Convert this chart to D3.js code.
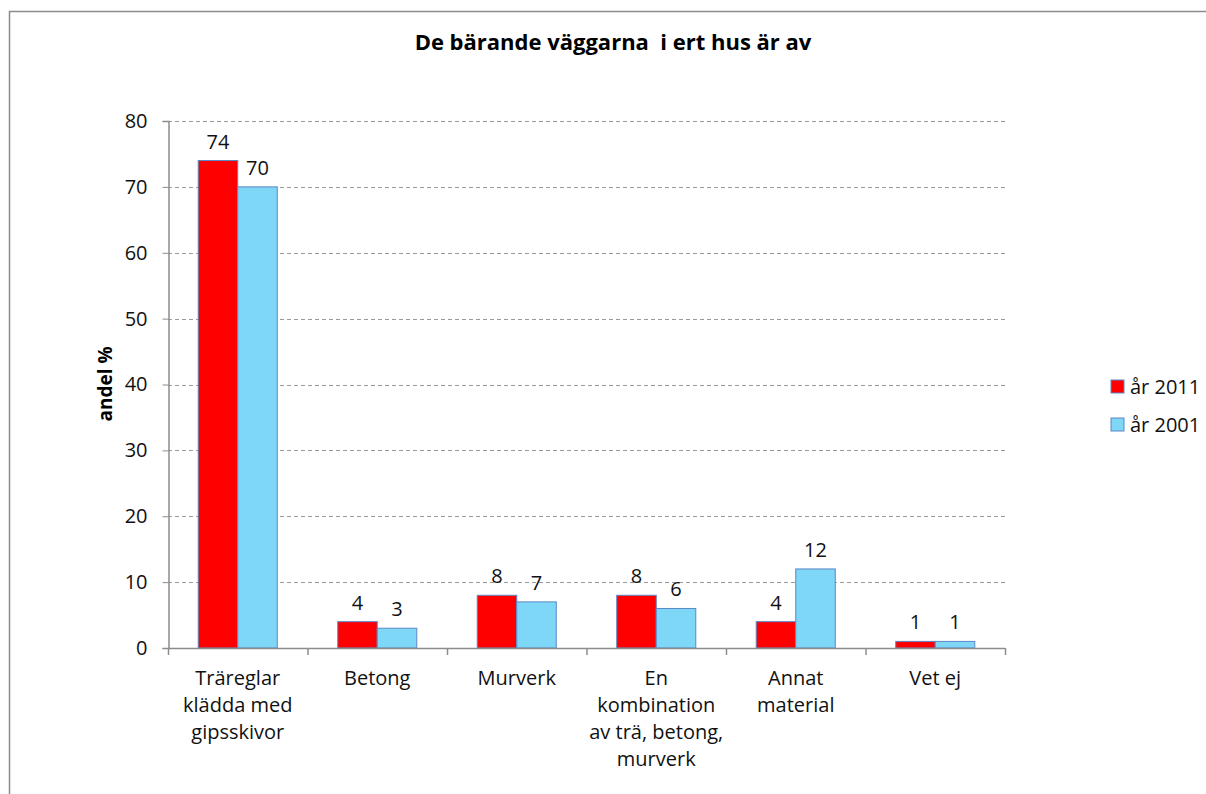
<!DOCTYPE html>
<html>
<head>
<meta charset="utf-8">
<script src="https://cdn.jsdelivr.net/npm/d3@7"></script>
<style>
  body { margin: 0; background: #fff; }
  text { font-family: "Open Sans", "Noto Sans", sans-serif; fill: #111; }
</style>
</head>
<body>
<svg id="viz" width="1206" height="794"></svg>
<script>
// data
const categories = [
  ["Träreglar", "klädda med", "gipsskivor"],
  ["Betong"],
  ["Murverk"],
  ["En", "kombination", "av trä, betong,", "murverk"],
  ["Annat", "material"],
  ["Vet ej"]
];
const seriesNames = ["år 2011", "år 2001"];
const values2011 = [74, 4, 8, 8, 4, 1];
const values2001 = [70, 3, 7, 6, 12, 1];
const yTicks = [0, 10, 20, 30, 40, 50, 60, 70, 80];
const colors = ["#ff0000", "#7fd7f7"];

const svg = d3.select("#viz");

// frame around the chart
svg.append("rect")
  .attr("x", 9.5).attr("y", 11.5)
  .attr("width", 1300).attr("height", 900)
  .style("fill", "none").style("stroke", "#8c8c8c").style("stroke-width", 1.5);

const margin = { top: 121, left: 168, right: 1005, bottom: 648 };

const keys = categories.map((d, i) => i);
const x = d3.scaleBand().domain(keys).range([margin.left, margin.right]).paddingInner(0).paddingOuter(0);
const x1 = d3.scaleBand().domain([0, 1]).range([0, x.bandwidth()]).paddingOuter(0.765).paddingInner(0);
const y = d3.scaleLinear().domain([0, 80]).range([margin.bottom, margin.top]);

// gridlines
svg.selectAll(".grid")
  .data(yTicks.filter((d) => d > 0))
  .enter()
  .append("line")
  .attr("x1", margin.left)
  .attr("x2", margin.right)
  .attr("y1", (d) => Math.round(y(d)) + 0.5)
  .attr("y2", (d) => Math.round(y(d)) + 0.5)
  .style("stroke", "#9a9a9a")
  .style("stroke-dasharray", "4,3");

// y axis
const yAxis = svg.append("g")
  .attr("transform", `translate(${margin.left + 0.5},0)`)
  .call(d3.axisLeft(y).tickValues(yTicks).tickSize(6).tickPadding(15));
yAxis.select(".domain").style("stroke", "#8c8c8c").style("stroke-width", 1.5);
yAxis.selectAll(".tick line").style("stroke", "#8c8c8c");
yAxis.selectAll("text").style("font-size", "20px").style("fill", "#111")
  .style("font-family", "'Open Sans', sans-serif");

// bars
const groups = svg.selectAll(".grp")
  .data(keys)
  .enter()
  .append("g")
  .attr("transform", (d) => `translate(${x(d)},0)`);

const seriesVals = [values2011, values2001];
groups.selectAll("rect")
  .data((d) => seriesVals.map((s, j) => ({ j: j, v: s[d] })))
  .enter()
  .append("rect")
  .attr("x", (d) => x1(d.j))
  .attr("y", (d) => y(d.v))
  .attr("width", x1.bandwidth())
  .attr("height", (d) => y(0) - y(d.v))
  .style("fill", (d) => colors[d.j])
  .style("stroke", "#5b87c5")
  .style("stroke-width", 1);

groups.selectAll(".label")
  .data((d) => seriesVals.map((s, j) => ({ j: j, v: s[d] })))
  .enter()
  .append("text")
  .attr("x", (d) => x1(d.j) + x1.bandwidth() / 2)
  .attr("y", (d) => y(d.v) - 12)
  .attr("text-anchor", "middle")
  .style("font-size", "20px")
  .text((d) => d.v);

// x axis
svg.append("line")
  .attr("x1", margin.left).attr("x2", margin.right)
  .attr("y1", margin.bottom + 0.5).attr("y2", margin.bottom + 0.5)
  .style("stroke", "#8c8c8c").style("stroke-width", 1.5);
svg.selectAll(".xtick")
  .data(d3.range(categories.length + 1))
  .enter()
  .append("line")
  .attr("x1", (d) => (d < categories.length ? x(d) : margin.right) + 0.5)
  .attr("x2", (d) => (d < categories.length ? x(d) : margin.right) + 0.5)
  .attr("y1", margin.bottom)
  .attr("y2", margin.bottom + 7)
  .style("stroke", "#8c8c8c").style("stroke-width", 1.5);

const catLabels = svg.selectAll(".cat")
  .data(keys)
  .enter()
  .append("text")
  .attr("text-anchor", "middle")
  .attr("y", 685)
  .style("font-size", "20px");
catLabels.selectAll("tspan")
  .data((d) => categories[d].map((t) => ({ t: t, c: d })))
  .enter()
  .append("tspan")
  .attr("x", (d) => x(d.c) + x.bandwidth() / 2)
  .attr("dy", (d, i) => (i === 0 ? 0 : 27))
  .text((d) => d.t);

// title (double space kept as in the original)
svg.append("text")
  .attr("x", 613).attr("y", 50)
  .attr("text-anchor", "middle")
  .style("font-size", "22px")
  .style("font-weight", "bold")
  .style("fill", "#000")
  .style("white-space", "pre")
  .text("De bärande väggarna  i ert hus är av");

// y label
svg.append("text")
  .attr("transform", "translate(112,384) rotate(-90)")
  .attr("text-anchor", "middle")
  .style("font-size", "19px")
  .style("font-weight", "bold")
  .style("fill", "#000")
  .text("andel %");

// legend
const legend = svg.selectAll(".leg")
  .data(seriesNames)
  .enter()
  .append("g")
  .attr("transform", (d, i) => `translate(1111,${380 + i * 38})`);
legend.append("rect")
  .attr("width", 13).attr("height", 13)
  .style("fill", (d, i) => colors[i])
  .style("stroke", "#5b87c5");
legend.append("text")
  .attr("x", 19).attr("y", 14)
  .style("font-size", "20px")
  .text((d) => d);
</script>
</body>
</html>
